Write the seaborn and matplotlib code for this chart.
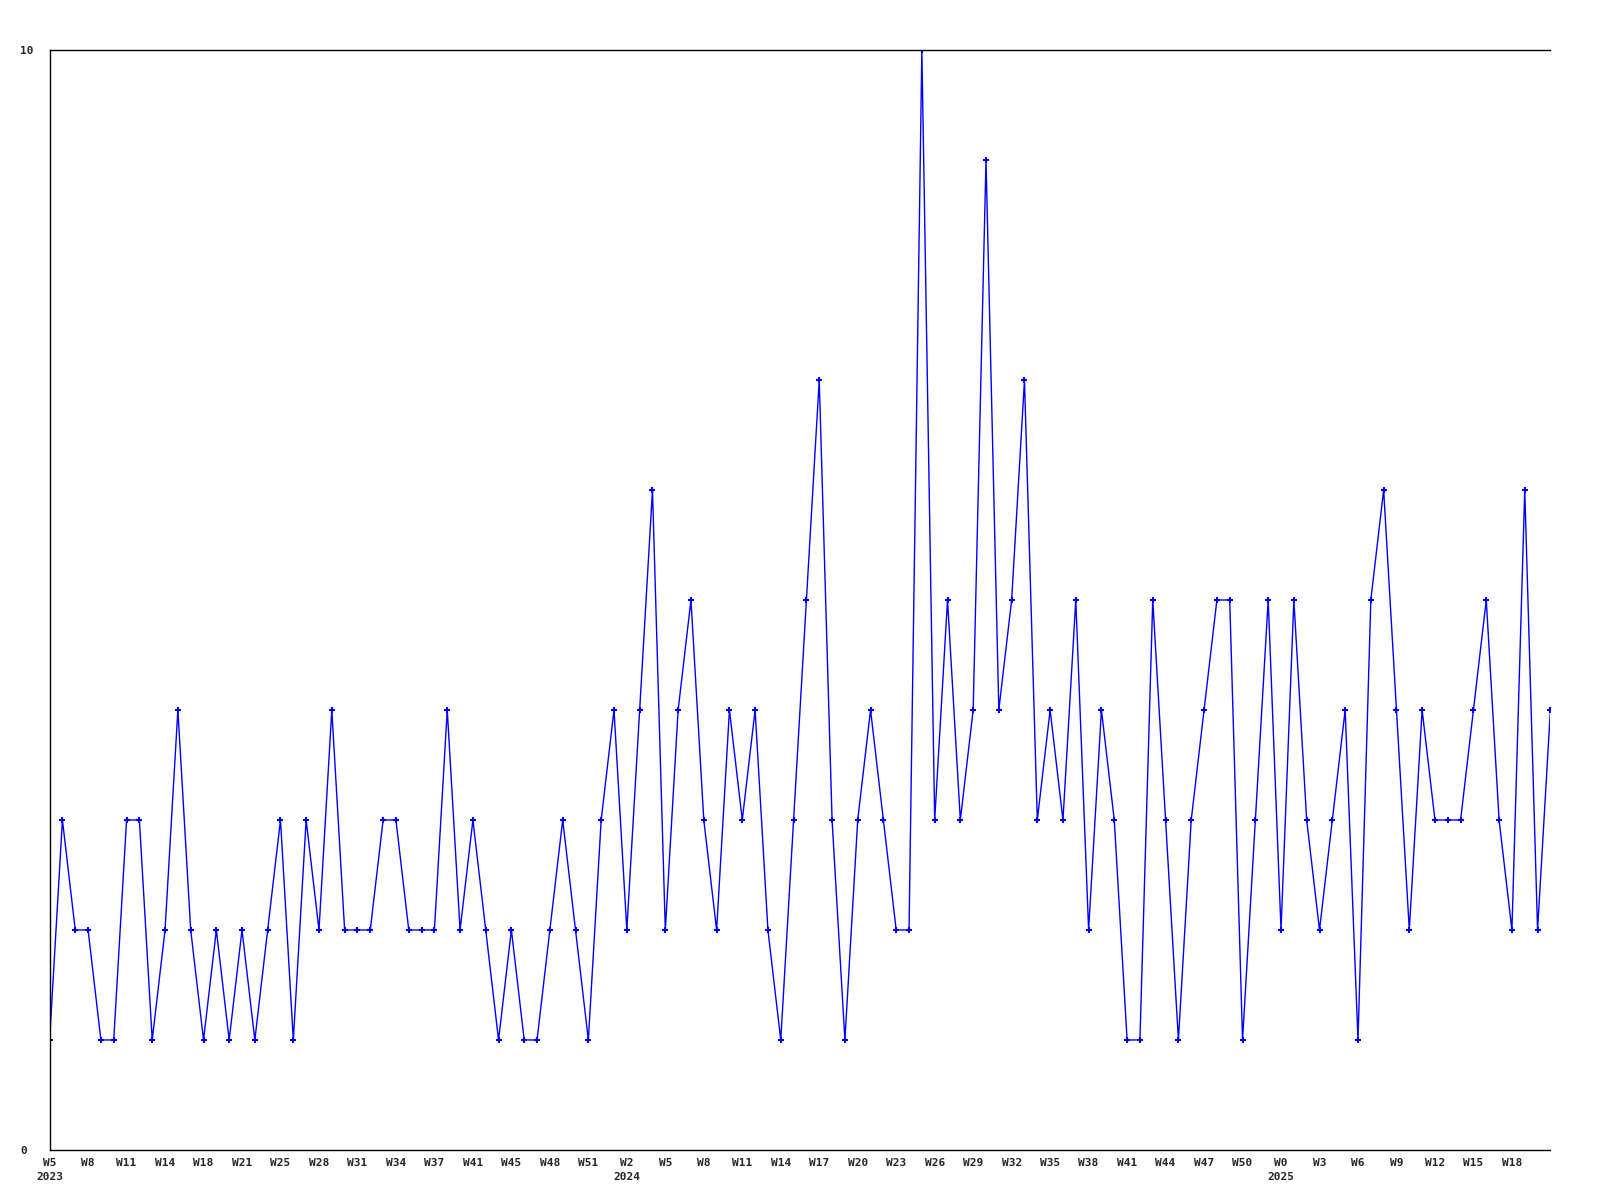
import matplotlib
matplotlib.use('Agg')
import matplotlib.pyplot as plt
import seaborn as sns
import pandas as pd

# weekly counts, one value per week
counts = [1, 3, 2, 2, 1, 1, 3, 3, 1, 2, 4, 2, 1, 2, 1, 2, 1, 2, 3, 1,
          3, 2, 4, 2, 2, 2, 3, 3, 2, 2, 2, 4, 2, 3, 2, 1, 2, 1, 1, 2,
          3, 2, 1, 3, 4, 2, 4, 6, 2, 4, 5, 3, 2, 4, 3, 4, 2, 1, 3, 5,
          7, 3, 1, 3, 4, 3, 2, 2, 10, 3, 5, 3, 4, 9, 4, 5, 7, 3, 4, 3,
          5, 2, 4, 3, 1, 1, 5, 3, 1, 3, 4, 5, 5, 1, 3, 5, 2, 5, 3, 2,
          3, 4, 1, 5, 6, 4, 2, 4, 3, 3, 3, 4, 5, 3, 2, 6, 2, 4]

# labels shown on every third week
week_labels = ['W5', 'W8', 'W11', 'W14', 'W18', 'W21', 'W25', 'W28', 'W31', 'W34',
               'W37', 'W41', 'W45', 'W48', 'W51', 'W2', 'W5', 'W8', 'W11', 'W14',
               'W17', 'W20', 'W23', 'W26', 'W29', 'W32', 'W35', 'W38', 'W41', 'W44',
               'W47', 'W50', 'W0', 'W3', 'W6', 'W9', 'W12', 'W15', 'W18']
year_labels = {'W5': '2023', 'W2': '2024', 'W0': '2025'}
year_at = [0, 15, 32]

df = pd.DataFrame({'week': range(len(counts)), 'count': counts})

sns.set_style('white')
plt.rcParams['font.family'] = ['DejaVu Sans Mono']
plt.rcParams['font.weight'] = 'bold'

fig = plt.figure(figsize=(16, 12), dpi=100)
ax = fig.add_axes([0.031, 0.0417, 0.938, 0.9166])

sns.lineplot(data=df, x='week', y='count', ax=ax, color='#0000ff', linewidth=1,
             marker='+', markersize=5, markeredgewidth=1.5, markeredgecolor='#0000ff')

ticks = list(range(0, len(counts), 3))[:len(week_labels)]
labels = []
for i, w in enumerate(week_labels):
    if i in year_at:
        labels.append(w + '\n' + year_labels[w])
    else:
        labels.append(w)
ax.set_xticks(ticks)
ax.set_xticklabels(labels, fontsize=8, fontweight='bold', linespacing=1.5)
ax.set_yticks([0, 10])
ax.set_yticklabels(['0', '10'], fontsize=8, fontweight='bold', ha='left')
ax.tick_params(axis='x', length=0, pad=6)
ax.tick_params(axis='y', length=0, pad=21)
ax.set_xlim(0, len(counts) - 1)
ax.set_ylim(0, 10)
ax.set_xlabel('')
ax.set_ylabel('')
ax.spines['right'].set_visible(False)
for s in ['left', 'top', 'bottom']:
    ax.spines[s].set_color('black')
    ax.spines[s].set_linewidth(1)

plt.savefig('out.png', dpi=100)
